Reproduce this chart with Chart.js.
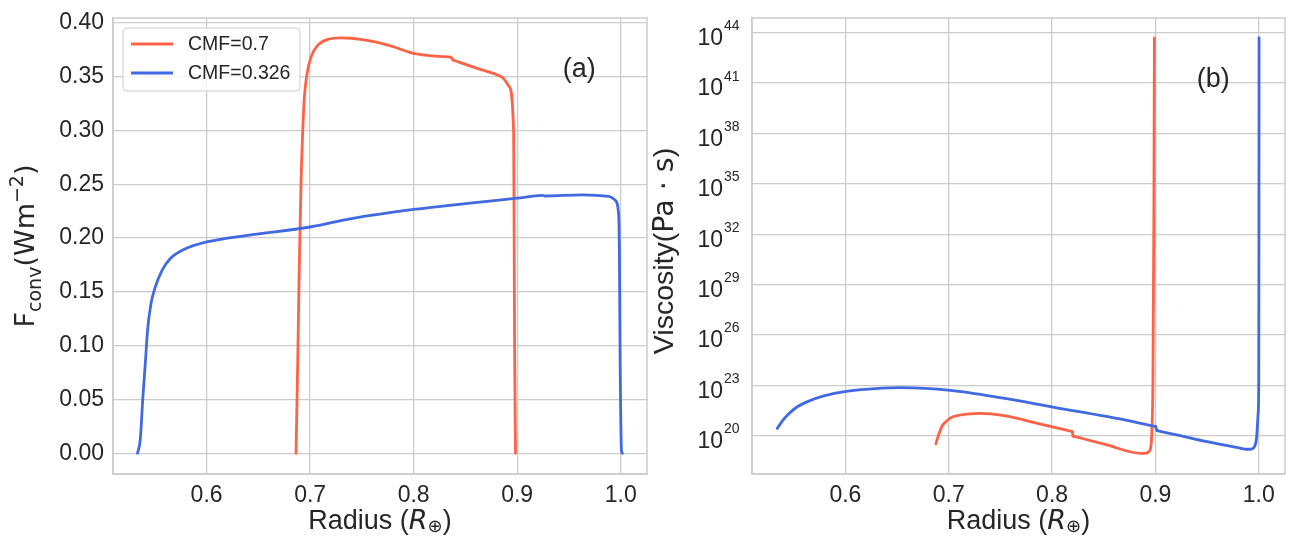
<!DOCTYPE html>
<html>
<head>
<meta charset="utf-8">
<script src="https://cdn.jsdelivr.net/npm/chart.js@4.4.1/dist/chart.umd.min.js"></script>
<style>
  html, body { margin: 0; padding: 0; background: #fff; }
  #wrap { position: relative; width: 1298px; height: 558px; }
  .panel { position: absolute; top: 0; width: 649px; height: 558px; }
</style>
</head>
<body>
<div id="wrap">
  <div class="panel" style="left:0"><canvas id="left"></canvas></div>
  <div class="panel" style="left:649px"><canvas id="right"></canvas></div>
</div>
<script>
// panel (a): convective flux (W m^-2) vs radius (Earth radii)
const radiusA07 = [0.6864, 0.688, 0.6896, 0.6913, 0.6929, 0.6945, 0.6971, 0.701, 0.7075, 0.7172, 0.7301, 0.7398, 0.7618, 0.782, 0.798, 0.815, 0.836, 0.838, 0.86, 0.886, 0.8923, 0.8966, 0.8975, 0.8984];
const fluxA07   = [0, 0.0835, 0.1763, 0.254, 0.3004, 0.3313, 0.353, 0.3685, 0.3793, 0.3845, 0.3859, 0.3856, 0.3824, 0.3772, 0.372, 0.3695, 0.368, 0.3654, 0.358, 0.349, 0.3406, 0.2977, 0.1, 0];
const radiusA0326 = [0.5333, 0.5359, 0.5385, 0.5408, 0.543, 0.5463, 0.5505, 0.557, 0.565, 0.578, 0.6, 0.6395, 0.7, 0.7398, 0.8, 0.85, 0.9, 0.9244, 0.9264, 0.9626, 0.9886, 0.9947, 0.998, 0.9987, 0.9995, 1.0008, 1.0016];
const fluxA0326   = [0, 0.0124, 0.0525, 0.0835, 0.1144, 0.139, 0.1546, 0.17, 0.1809, 0.1892, 0.1963, 0.2025, 0.2102, 0.218, 0.2265, 0.232, 0.237, 0.2395, 0.239, 0.2401, 0.2386, 0.235, 0.222, 0.19, 0.08, 0.002, 0];

// panel (b): viscosity (Pa s) vs radius
const radiusB07 = [0.6875, 0.6896, 0.6933, 0.6973, 0.7013, 0.7093, 0.7214, 0.7294, 0.7533, 0.789, 0.8023, 0.8196, 0.8203, 0.853, 0.8855, 0.8903, 0.8935, 0.8958, 0.8966, 0.8976, 0.8985, 0.899];
const viscB07   = [3.2e19, 8.7e19, 3.5e20, 6.8e20, 1.1e21, 1.6e21, 2.0e21, 2.1e21, 1.55e21, 4.8e20, 3.1e20, 1.74e20, 9.5e19, 2.8e19, 8.9e18, 8.9e18, 1.1e19, 2.8e19, 2.2e20, 2e23, 1e33, 4.9e43];
const radiusB0326 = [0.534, 0.5383, 0.5447, 0.5527, 0.564, 0.58, 0.601, 0.622, 0.635, 0.653, 0.7017, 0.753, 0.802, 0.854, 0.9, 0.9015, 0.924, 0.95, 0.966, 0.982, 0.988, 0.993, 0.9966, 0.998, 0.9994, 1.0, 1.0002, 1.0003];
const viscB0326   = [2.7e20, 6.6e20, 1.86e21, 4.9e21, 1.1e22, 2.4e22, 4.3e22, 5.9e22, 6.8e22, 7.2e22, 5.0e22, 1.7e22, 4.9e21, 1.35e21, 3.6e20, 2.0e20, 1.0e20, 4.4e19, 2.8e19, 1.8e19, 1.55e19, 1.6e19, 2.8e19, 8.7e19, 2.1e21, 2e23, 1e33, 4.9e43];

// radii where a curve has a small jump (drawn as a straight link)
const jumpsA07 = [0.836];
const jumpsB07 = [0.8196];
const jumpsB0326 = [0.9];

const seriesLabels = ['CMF=0.7', 'CMF=0.326'];
const xTicks  = [0.6, 0.7, 0.8, 0.9, 1.0];
const yTicksA = [0, 0.05, 0.1, 0.15, 0.2, 0.25, 0.3, 0.35, 0.4];
const yTicksB = [1e20, 1e23, 1e26, 1e29, 1e32, 1e35, 1e38, 1e41, 1e44];
const xRange  = [0.5096, 1.0254];
const yRangeA = [-0.0193, 0.4044];
const yRangeB = [5.2e17, 7.5e44];

const RED = '#ff6347';
const BLUE = '#4169e1';
const TEXT = '#262626';
const GRID = '#cccccc';
const FONT = "'Liberation Sans', Arial, sans-serif";
const MATH = "'DejaVu Sans', sans-serif";

const pairs = (xs, ys) => xs.map((x, i) => ({ x: x, y: ys[i] }));

function drawRich(ctx, parts, cx, cy, rotated) {
    ctx.save();
    ctx.translate(cx, cy);
    if (rotated) ctx.rotate(-Math.PI / 2);
    ctx.fillStyle = TEXT;
    ctx.textBaseline = 'alphabetic';
    ctx.textAlign = 'left';
    let total = 0;
    parts.forEach(p => { ctx.font = p.font; p.w = ctx.measureText(p.text).width; total += p.w; });
    let x = -total / 2;
    parts.forEach(p => { ctx.font = p.font; ctx.fillText(p.text, x, p.dy || 0); x += p.w; });
    ctx.restore();
}

function radiusTitle(ctx, area) {
    drawRich(ctx, [
        { text: 'Radius (', font: `27px ${FONT}` },
        { text: 'R', font: `italic 27px ${MATH}` },
        { text: '⊕', font: `18px ${MATH}`, dy: 3 },
        { text: ')', font: `27px ${FONT}` }
    ], (area.left + area.right) / 2, 529, false);
}

function frame(ctx, area) {
    ctx.save();
    ctx.strokeStyle = GRID;
    ctx.lineWidth = 1.5;
    ctx.strokeRect(area.left, area.top, area.right - area.left, area.bottom - area.top);
    ctx.restore();
}

function panelTag(chart, text, xv, yv) {
    const ctx = chart.ctx;
    ctx.save();
    ctx.fillStyle = TEXT;
    ctx.font = `27px ${FONT}`;
    ctx.textAlign = 'left';
    ctx.textBaseline = 'alphabetic';
    ctx.fillText(text, chart.scales.x.getPixelForValue(xv), chart.scales.y.getPixelForValue(yv));
    ctx.restore();
}

const decorA = {
    id: 'decorA',
    afterDraw(chart) {
        const ctx = chart.ctx, area = chart.chartArea;
        frame(ctx, area);
        radiusTitle(ctx, area);
        drawRich(ctx, [
            { text: 'F', font: `27px ${MATH}` },
            { text: 'conv', font: `19px ${MATH}`, dy: 7 },
            { text: '(Wm', font: `27px ${MATH}` },
            { text: '−2', font: `19px ${MATH}`, dy: -11 },
            { text: ')', font: `27px ${MATH}` }
        ], 34, (area.top + area.bottom) / 2, true);
        panelTag(chart, '(a)', 0.944, 0.35);

        // legend box, upper left
        const bx = area.left + 10, by = area.top + 10, bw = 177, bh = 63;
        ctx.save();
        ctx.beginPath();
        ctx.roundRect(bx, by, bw, bh, 4);
        ctx.fillStyle = 'rgba(255,255,255,0.8)';
        ctx.fill();
        ctx.strokeStyle = GRID;
        ctx.lineWidth = 1;
        ctx.stroke();
        chart.data.datasets.filter(ds => ds.inLegend).forEach((ds, i) => {
            const ly = by + 16 + i * 29;
            ctx.strokeStyle = ds.borderColor;
            ctx.lineWidth = 2.8;
            ctx.beginPath();
            ctx.moveTo(bx + 8, ly);
            ctx.lineTo(bx + 50, ly);
            ctx.stroke();
            ctx.fillStyle = TEXT;
            ctx.font = `19.5px ${FONT}`;
            ctx.textBaseline = 'middle';
            ctx.fillText(ds.label, bx + 65, ly + 1);
        });
        ctx.restore();
    }
};

const decorB = {
    id: 'decorB',
    afterDraw(chart) {
        const ctx = chart.ctx, area = chart.chartArea, ys = chart.scales.y;
        frame(ctx, area);
        radiusTitle(ctx, area);
        drawRich(ctx, [
            { text: 'Viscosity(', font: `28.5px ${FONT}` },
            { text: 'Pa · s', font: `28.5px ${MATH}` },
            { text: ')', font: `28.5px ${FONT}` }
        ], 24, 251, true);
        panelTag(chart, '(b)', 0.94, 5.6e40);

        // exponents of the 10^n tick labels
        ctx.save();
        ctx.fillStyle = TEXT;
        ctx.font = `14px ${FONT}`;
        ctx.textAlign = 'left';
        ctx.textBaseline = 'alphabetic';
        ys.ticks.forEach(t => {
            ctx.fillText(String(Math.round(Math.log10(t.value))), area.left - 28, ys.getPixelForValue(t.value) - 2.5);
        });
        ctx.restore();
    }
};

function lineSet(label, data, color, order, smooth) {
    return {
        label: label,
        data: data,
        showLine: true,
        borderColor: color,
        backgroundColor: color,
        borderWidth: 2.8,
        pointRadius: 0,
        tension: 0,
        cubicInterpolationMode: smooth ? 'monotone' : 'default',
        borderJoinStyle: 'round',
        borderCapStyle: 'round',
        order: order
    };
}

// one series = smooth runs, joined by straight links at the jumps
function curveSets(label, xs, ys, color, order, jumps) {
    const pts = pairs(xs, ys);
    const sets = [];
    let start = 0;
    jumps.map(j => xs.indexOf(j)).forEach(b => {
        sets.push(lineSet(label, pts.slice(start, b + 1), color, order, true));
        sets.push(lineSet(label, pts.slice(b, b + 2), color, order, false));
        start = b + 1;
    });
    sets.push(lineSet(label, pts.slice(start), color, order, true));
    sets[0].inLegend = true;
    return sets;
}

function axisStyle() {
    return {
        grid: { color: GRID, lineWidth: 1.3, drawTicks: false },
        border: { color: GRID, width: 1.5 },
        ticks: { color: TEXT, font: { family: FONT, size: 23 }, autoSkip: false, maxRotation: 0, padding: 8 }
    };
}

function buildChart(id, datasets, yType, yRange, yTicks, yWidth, padRight, plugin) {
    return new Chart(document.getElementById(id), {
        type: 'scatter',
        data: { datasets: datasets },
        options: {
            responsive: true,
            maintainAspectRatio: false,
            animation: false,
            layout: { padding: { top: 18, right: padRight, bottom: 0, left: 0 } },
            plugins: { legend: { display: false }, tooltip: { enabled: false } },
            scales: {
                x: Object.assign(axisStyle(), {
                    type: 'linear',
                    min: xRange[0],
                    max: xRange[1],
                    afterBuildTicks: s => { s.ticks = xTicks.map(v => ({ value: v })); },
                    afterFit: s => { s.height = 84; s.paddingLeft = 0; s.paddingRight = 0; }
                }),
                y: Object.assign(axisStyle(), {
                    type: yType,
                    min: yRange[0],
                    max: yRange[1],
                    afterBuildTicks: s => { s.ticks = yTicks.map(v => ({ value: v })); },
                    afterFit: s => { s.width = yWidth; s.paddingTop = 0; s.paddingBottom = 0; }
                })
            }
        },
        plugins: [plugin]
    });
}

const chartA = buildChart('left', [
    ...curveSets(seriesLabels[0], radiusA07, fluxA07, RED, 1, jumpsA07),
    ...curveSets(seriesLabels[1], radiusA0326, fluxA0326, BLUE, 0, [])
], 'linear', yRangeA, yTicksA, 113, 2, decorA);
chartA.options.scales.x.ticks.callback = v => v.toFixed(1);
chartA.options.scales.y.ticks.padding = 9;
chartA.options.scales.y.ticks.callback = v => v.toFixed(2);
chartA.update();

const chartB = buildChart('right', [
    ...curveSets(seriesLabels[0], radiusB07, viscB07, RED, 1, jumpsB07),
    ...curveSets(seriesLabels[1], radiusB0326, viscB0326, BLUE, 0, jumpsB0326)
], 'logarithmic', yRangeB, yTicksB, 103, 13, decorB);
chartB.options.scales.x.ticks.callback = v => v.toFixed(1);
chartB.options.scales.y.ticks.padding = 29;
chartB.options.scales.y.ticks.labelOffset = 6;
chartB.options.scales.y.ticks.callback = () => '10';
chartB.update();
</script>
</body>
</html>
